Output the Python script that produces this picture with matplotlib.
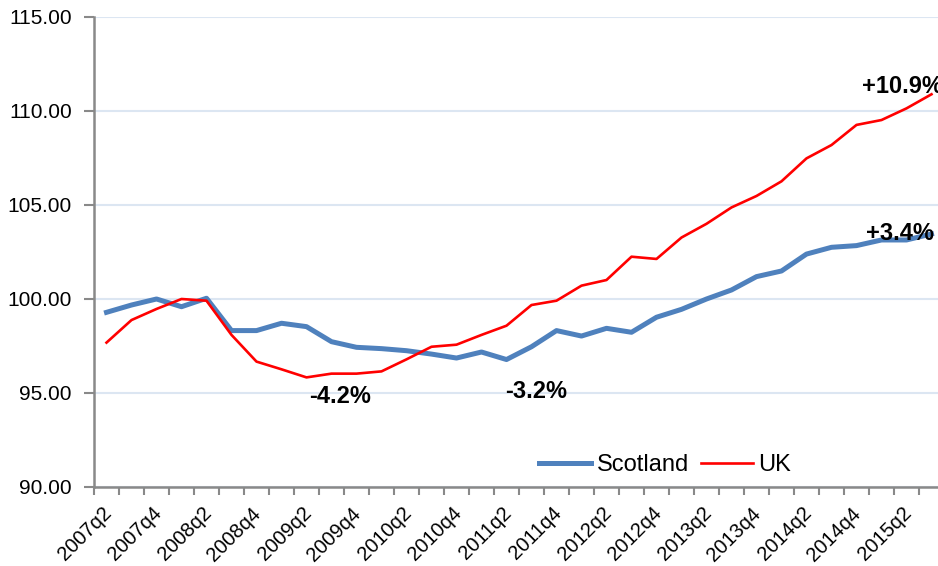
import matplotlib
matplotlib.use("Agg")
import matplotlib.pyplot as plt
import matplotlib.transforms as mtransforms

plt.rcParams['font.family'] = ['Liberation Sans', 'DejaVu Sans']

# quarters 2007q2 .. 2015q3
quarters = [f"{y}q{q}" for y in range(2007, 2016) for q in range(1, 5)][1:35]

scotland = [99.29, 99.68, 100.00, 99.59, 100.04, 98.32, 98.32, 98.71, 98.53,
            97.73, 97.43, 97.36, 97.25, 97.07, 96.86, 97.18, 96.78, 97.46,
            98.32, 98.03, 98.44, 98.23, 99.03, 99.45, 100.00, 100.48, 101.19,
            101.49, 102.39, 102.75, 102.84, 103.14, 103.14, 103.46]
uk = [97.68, 98.88, 99.47, 100.00, 99.91, 98.09, 96.67, 96.26, 95.83,
      96.03, 96.03, 96.15, 96.79, 97.46, 97.57, 98.09, 98.58, 99.68,
      99.91, 100.71, 101.01, 102.25, 102.13, 103.27, 104.00, 104.87, 105.48,
      106.26, 107.48, 108.19, 109.26, 109.52, 110.14, 110.89]

# (text, x index, y baseline)
notes = [("-4.2%", 8.1, 94.47), ("-3.2%", 15.95, 94.73),
         ("+10.9%", 30.22, 110.98), ("+3.4%", 30.37, 103.14)]

fig = plt.figure(figsize=(9.38, 5.66), dpi=100)
ax = fig.add_axes([94 / 938, 79 / 566, 850 / 938, 470 / 566])

x = list(range(len(quarters)))
ax.plot(x, scotland, color='#4f81bd', lw=3.6, label='Scotland', solid_joinstyle='round')
ax.plot(x, uk, color='#ff0000', lw=1.9, label='UK')

ax.set_xlim(-0.5, len(quarters) - 0.5)
ax.set_ylim(90, 115)
ax.set_yticks([90, 95, 100, 105, 110, 115])
ax.set_yticklabels([f"{v:.2f}" for v in [90, 95, 100, 105, 110, 115]])
ax.grid(axis='y', color='#dce6f2', lw=1.5)
ax.set_axisbelow(True)

ax.set_xticks(x[::2])
ax.set_xticklabels(quarters[::2], rotation=45, ha='right', rotation_mode='anchor')
ax.set_xticks([i - 0.5 for i in range(len(quarters) + 1)], minor=True)
ax.tick_params(axis='x', which='major', length=0, pad=12, labelsize=14.5)
ax.tick_params(axis='x', which='minor', length=6, width=1.5, color='#898989', direction='out')
ax.tick_params(axis='y', length=7, width=1.5, color='#898989', pad=9, labelsize=15)

offset = mtransforms.ScaledTranslation(-5 / 100, 0, fig.dpi_scale_trans)
for lbl in ax.get_xticklabels():
    lbl.set_transform(lbl.get_transform() + offset)

for s in ['top', 'right']:
    ax.spines[s].set_visible(False)
for s in ['left', 'bottom']:
    ax.spines[s].set_color('#898989')
    ax.spines[s].set_linewidth(1.8)

for txt, xi, yv in notes:
    ax.text(xi, yv, txt, fontsize=17, fontweight='bold', ha='left', va='baseline')

fig.legend(loc='center', bbox_to_anchor=(665 / 938, 1 - 465 / 566), ncol=2,
           frameon=False, fontsize=17, handlelength=2.2, handletextpad=0.25,
           columnspacing=0.5)

fig.savefig("out.png", dpi=100)
